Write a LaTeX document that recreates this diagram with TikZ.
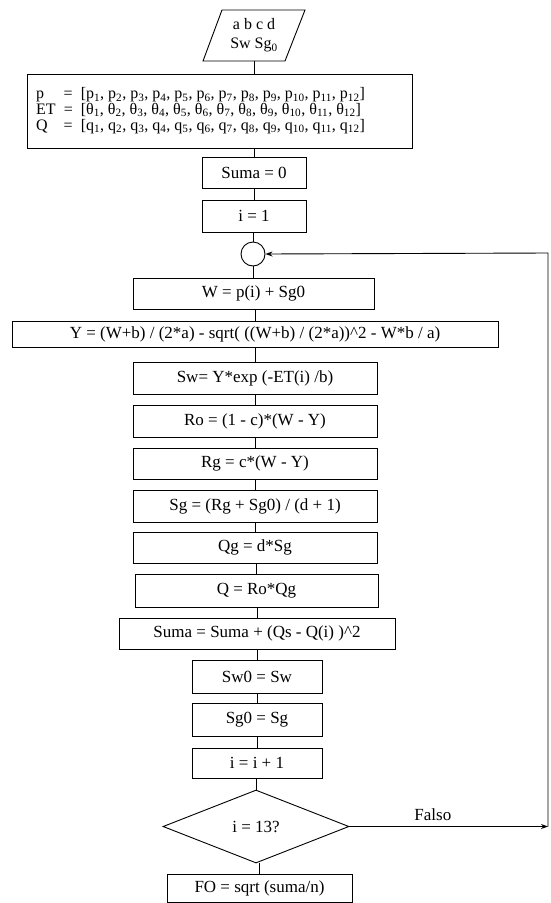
\documentclass[tikz,border=0pt]{standalone}
\usepackage{fontspec}
\setmainfont{Liberation Serif}
\usetikzlibrary{shapes.geometric,arrows.meta}
\begin{document}
\begin{tikzpicture}[x=1pt,y=-1pt,
  box/.style={draw, line width=0.9pt, inner sep=0pt, font=\fontsize{17}{20}\selectfont},
  conn/.style={line width=0.9pt},
  arr/.style={line width=0.9pt, -{Stealth[length=7pt,width=5pt]}}]
\useasboundingbox (0,0) rectangle (551,903);
% input parallelogram
\draw[line width=0.9pt] (222,10) -- (305,10) -- (285,61) -- (203,61) -- cycle;
\node[inner sep=0pt, minimum height=51pt, align=center, font=\fontsize{16}{19}\selectfont] (in) at (254,35.5) {a b c d\\Sw Sg\textsubscript{0}};
% data box
\node[box, minimum width=385pt, minimum height=74pt] (data) at (219.5,111) {};
\node[inner sep=0pt, anchor=west, font=\fontsize{16}{15.5}\selectfont] (datatext) at (36,111) {%
\begin{tabular}{@{}l@{\ \ }c@{\ \ }l@{}}
p & = & [p\textsubscript{1}, p\textsubscript{2}, p\textsubscript{3}, p\textsubscript{4}, p\textsubscript{5}, p\textsubscript{6}, p\textsubscript{7}, p\textsubscript{8}, p\textsubscript{9}, p\textsubscript{10}, p\textsubscript{11}, p\textsubscript{12}]\\
ET & = & [θ\textsubscript{1}, θ\textsubscript{2}, θ\textsubscript{3}, θ\textsubscript{4}, θ\textsubscript{5}, θ\textsubscript{6}, θ\textsubscript{7}, θ\textsubscript{8}, θ\textsubscript{9}, θ\textsubscript{10}, θ\textsubscript{11}, θ\textsubscript{12}]\\
Q & = & [q\textsubscript{1}, q\textsubscript{2}, q\textsubscript{3}, q\textsubscript{4}, q\textsubscript{5}, q\textsubscript{6}, q\textsubscript{7}, q\textsubscript{8}, q\textsubscript{9}, q\textsubscript{10}, q\textsubscript{11}, q\textsubscript{12}]
\end{tabular}};
\node[box, minimum width=104pt, minimum height=31pt] (suma0) at (254,173) {Suma = 0};
\node[box, minimum width=104pt, minimum height=32pt] (i1) at (254,216) {i = 1};
\node[draw, circle, line width=0.9pt, minimum size=24pt, inner sep=0pt] (circ) at (253,254) {};
\node[box, minimum width=241pt, minimum height=31pt] (W) at (253.5,293.5) {W = p(i) + Sg0};
\node[box, minimum width=486pt, minimum height=26pt] (Y) at (255,334) {Y = (W+b) / (2*a) - sqrt( ((W+b) / (2*a))\^{}2 - W*b / a)};
\node[box, minimum width=244pt, minimum height=32pt] (Sw) at (255,378) {Sw= Y*exp (-ET(i) /b)};
\node[box, minimum width=244pt, minimum height=32pt] (Ro) at (255,421) {Ro = (1 - c)*(W - Y)};
\node[box, minimum width=244pt, minimum height=31pt] (Rg) at (255,463.5) {Rg = c*(W - Y)};
\node[box, minimum width=244pt, minimum height=32pt] (Sg) at (255,506) {Sg = (Rg + Sg0) / (d + 1)};
\node[box, minimum width=244pt, minimum height=31pt] (Qg) at (255,547.5) {Qg = d*Sg};
\node[box, minimum width=243pt, minimum height=33pt] (Q) at (256.5,590.5) {Q = Ro*Qg};
\node[box, minimum width=276pt, minimum height=31pt] (Suma) at (257,633.5) {Suma = Suma + (Qs - Q(i) )\^{}2};
\node[box, minimum width=130pt, minimum height=33pt] (Sw0) at (257,676.5) {Sw0 = Sw};
\node[box, minimum width=130pt, minimum height=33pt] (Sg0) at (257,719.5) {Sg0 = Sg};
\node[box, minimum width=130pt, minimum height=30pt] (ii) at (257,763) {i = i + 1};
\node[box, diamond, minimum width=186pt, minimum height=73pt] (dec) at (256,826.5) {i = 13?};
\node[box, minimum width=185pt, minimum height=28pt] (FO) at (259.5,888) {FO = sqrt (suma/n)};
% connectors
\draw[conn] (in.south) -- (in.south |- data.north);
\draw[conn] (suma0.north |- data.south) -- (suma0.north);
\foreach \a/\b in {suma0/i1, i1/circ, circ/W, W/Y, Y/Sw, Sw/Ro, Ro/Rg, Rg/Sg, Sg/Qg, Qg/Q, Q/Suma, Suma/Sw0, Sw0/Sg0, Sg0/ii, ii/dec, dec/FO}
  \draw[conn] (\b.north) -- (\b.north |- \a.south);
% loop
\coordinate (R1) at (548,826.5);
\coordinate (R2) at (548,253);
\draw[arr] (dec.east) -- node[above=2pt, font=\fontsize{17}{20}\selectfont, pos=0.42] {Falso} (R1);
\draw[arr] (R1) -- (R2) -- (circ.east);
\end{tikzpicture}
\end{document}
